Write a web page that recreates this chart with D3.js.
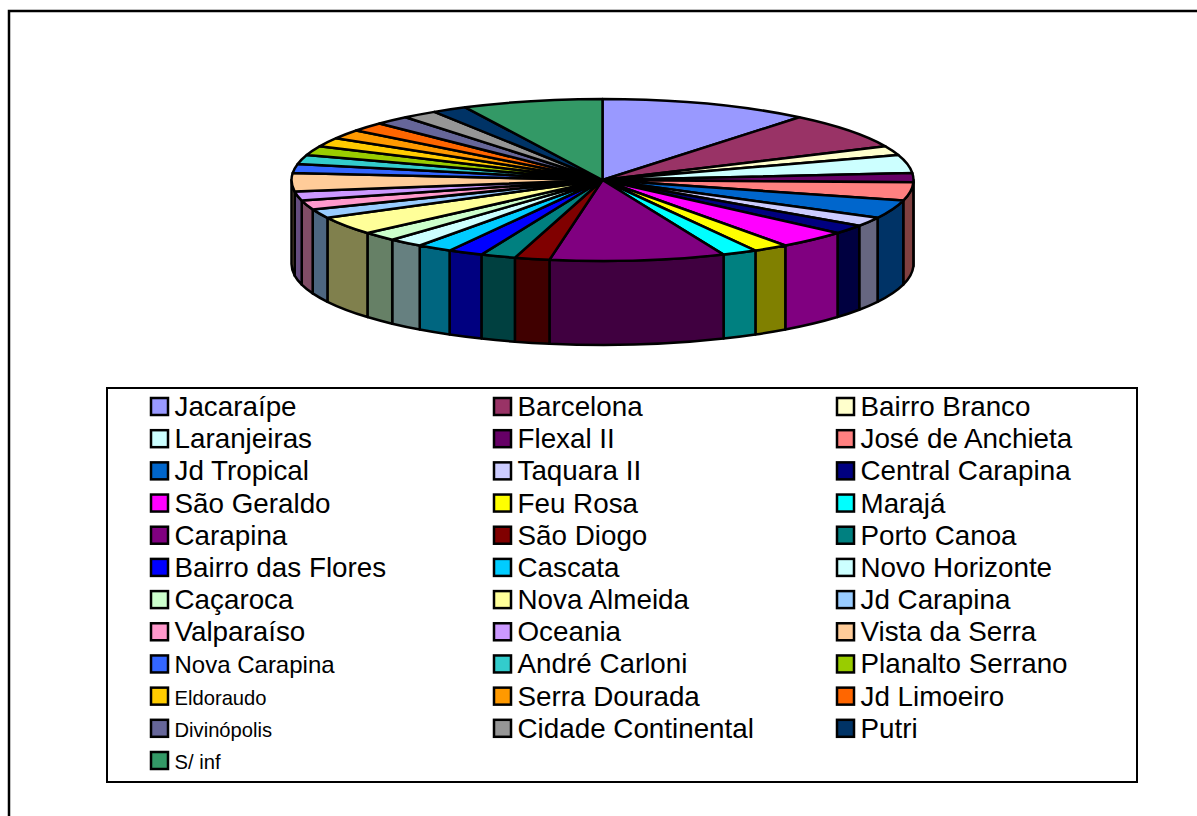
<!DOCTYPE html>
<html>
<head>
<meta charset="utf-8">
<script src="https://cdn.jsdelivr.net/npm/d3@7"></script>
<style>
  html, body { margin: 0; padding: 0; background: #fff; }
  svg { display: block; }
  text { font-family: "Liberation Sans", Arial, sans-serif; fill: #000; }
</style>
</head>
<body>
<svg id="chart" width="1197" height="816"></svg>
<script>
var neighbourhoods = [
  'Jacaraípe', 'Barcelona', 'Bairro Branco', 'Laranjeiras', 'Flexal II', 'José de Anchieta',
  'Jd Tropical', 'Taquara II', 'Central Carapina', 'São Geraldo', 'Feu Rosa', 'Marajá',
  'Carapina', 'São Diogo', 'Porto Canoa', 'Bairro das Flores', 'Cascata', 'Novo Horizonte',
  'Caçaroca', 'Nova Almeida', 'Jd Carapina', 'Valparaíso', 'Oceania', 'Vista da Serra',
  'Nova Carapina', 'André Carloni', 'Planalto Serrano', 'Eldoraudo', 'Serra Dourada', 'Jd Limoeiro',
  'Divinópolis', 'Cidade Continental', 'Putri', 'S/ inf'
]
var counts = [
  6, 4, 1, 2, 1, 2,
  2, 1, 1, 2, 1, 1,
  5, 1, 1, 1, 1, 1,
  1, 2, 1, 1, 1, 2,
  1, 1, 1, 1, 1, 1,
  1, 1, 1, 4
]
var sliceColors = [
  '#9999ff', '#993366', '#ffffcc', '#ccffff', '#660066', '#ff8080',
  '#0066cc', '#ccccff', '#000080', '#ff00ff', '#ffff00', '#00ffff',
  '#800080', '#800000', '#008080', '#0000ff', '#00ccff', '#ccffff',
  '#ccffcc', '#ffff99', '#99ccff', '#ff99cc', '#cc99ff', '#ffcc99',
  '#3366ff', '#33cccc', '#99cc00', '#ffcc00', '#ff9900', '#ff6600',
  '#666699', '#969696', '#003366', '#339966'
]
// a few legend entries were shrunk by the original chart
var smallLabels = { 'Nova Carapina': 24, 'Eldoraudo': 20.2, 'Divinópolis': 20.2, 'S/ inf': 20.2 }
var labelSize = 27.8

var cx = 602.5, cy = 180, rx = 311, ry = 81, depth = 84
var svg = d3.select('#chart')

// the frame only shows on its top and left sides
svg.append('path')
  .attr('d', 'M1197,11H9V816')
  .attr('fill', 'none').attr('stroke', '#000').attr('stroke-width', 2.5)

var slices = d3.pie().sort(null).value(function (d) { return d })(counts)

function px (a) { return cx + rx * Math.sin(a) }
function py (a) { return cy - ry * Math.cos(a) }

// side wall of one slice, only the front half of the ellipse shows
function wallPath (d) {
  var a0 = Math.max(d.startAngle, Math.PI / 2)
  var a1 = Math.min(d.endAngle, Math.PI * 3 / 2)
  if (a1 <= a0) return null
  return 'M' + px(a0) + ',' + py(a0) +
    'A' + rx + ',' + ry + ' 0 0 1 ' + px(a1) + ',' + py(a1) +
    'L' + px(a1) + ',' + (py(a1) + depth) +
    'A' + rx + ',' + ry + ' 0 0 0 ' + px(a0) + ',' + (py(a0) + depth) + 'Z'
}

function topPath (d) {
  var large = d.endAngle - d.startAngle > Math.PI ? 1 : 0
  return 'M' + cx + ',' + cy +
    'L' + px(d.startAngle) + ',' + py(d.startAngle) +
    'A' + rx + ',' + ry + ' 0 ' + large + ' 1 ' + px(d.endAngle) + ',' + py(d.endAngle) + 'Z'
}

var pie = svg.append('g').attr('stroke', '#000').attr('stroke-width', 2.5).attr('stroke-linejoin', 'round')

pie.selectAll('path.wall')
  .data(slices.filter(function (d) { return wallPath(d) }))
  .enter().append('path')
  .attr('class', 'wall')
  .attr('d', wallPath)
  .attr('fill', function (d) {
    var c = d3.rgb(sliceColors[d.index])
    return d3.rgb(c.r / 2, c.g / 2, c.b / 2).formatHex()
  })

pie.selectAll('path.top')
  .data(slices)
  .enter().append('path')
  .attr('class', 'top')
  .attr('d', topPath)
  .attr('fill', function (d) { return sliceColors[d.index] })

// legend
svg.append('rect')
  .attr('x', 107).attr('y', 388).attr('width', 1030).attr('height', 394)
  .attr('fill', '#fff').attr('stroke', '#000').attr('stroke-width', 2)

var rowY = d3.scaleLinear().domain([0, 11]).range([406, 760])
var colX = d3.scalePoint().domain([0, 1, 2]).range([151, 837])

var items = svg.append('g').selectAll('g')
  .data(neighbourhoods)
  .enter().append('g')
  .attr('transform', function (d, i) {
    return 'translate(' + colX(i % 3) + ',' + rowY(Math.floor(i / 3)) + ')'
  })

items.append('rect')
  .attr('x', 0).attr('y', -8).attr('width', 17).attr('height', 17)
  .attr('fill', function (d, i) { return sliceColors[i] })
  .attr('stroke', '#000').attr('stroke-width', 2.5)

items.append('text')
  .attr('x', 23.5)
  .attr('y', function (d) { return smallLabels[d] ? 9.2 : 10 })
  .style('font-size', function (d) { return (smallLabels[d] || labelSize) + 'px' })
  .text(function (d) { return d })
</script>
</body>
</html>
